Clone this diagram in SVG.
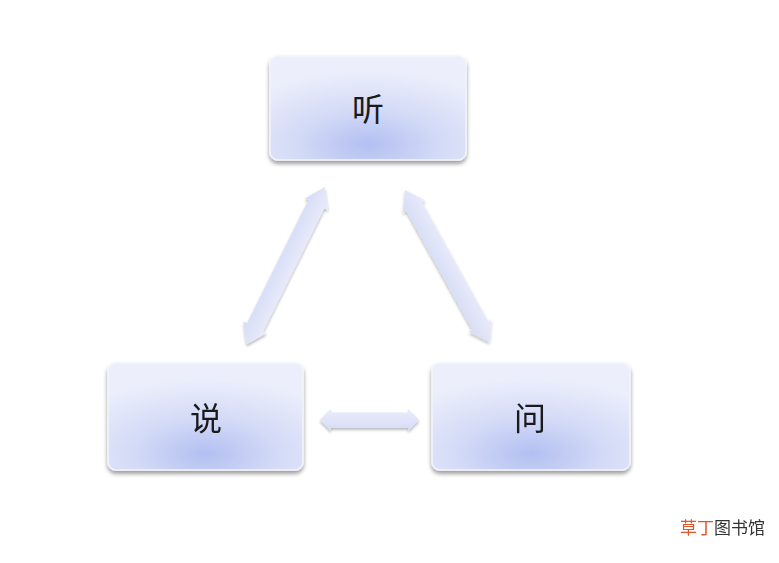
<svg xmlns="http://www.w3.org/2000/svg" width="779" height="563" viewBox="0 0 779 563">
<defs>
<radialGradient id="g" cx="0.5" cy="0.85" r="0.8" gradientTransform="translate(0.5,0.85) scale(1,0.9) translate(-0.5,-0.85)">
<stop offset="0" stop-color="#b2bff1"/>
<stop offset="0.45" stop-color="#d3daf7"/>
<stop offset="1" stop-color="#eceffb"/>
</radialGradient>
<linearGradient id="ag" x1="0" y1="0" x2="0" y2="1">
<stop offset="0" stop-color="#e9ecfa"/>
<stop offset="1" stop-color="#d6dcf6"/>
</linearGradient>
<filter id="sh" x="-10%" y="-10%" width="120%" height="130%">
<feGaussianBlur in="SourceAlpha" stdDeviation="2"/>
<feOffset dx="0" dy="3" result="b"/>
<feComponentTransfer><feFuncA type="linear" slope="0.4"/></feComponentTransfer>
<feMerge><feMergeNode/><feMergeNode in="SourceGraphic"/></feMerge>
</filter>
<filter id="sh2" x="-10%" y="-10%" width="120%" height="130%">
<feGaussianBlur in="SourceAlpha" stdDeviation="1.5"/>
<feOffset dx="0" dy="2"/>
<feComponentTransfer><feFuncA type="linear" slope="0.3"/></feComponentTransfer>
<feMerge><feMergeNode/><feMergeNode in="SourceGraphic"/></feMerge>
</filter>
<path id="arr" d="M0,0 L11,-13 L11,-9 L89,-9 L89,-13 L100,0 L89,13 L89,9 L11,9 L11,13 Z"/>
</defs>
<style>
.box{fill:url(#g);stroke:#f4f5fc;stroke-width:1.5;filter:url(#sh)}
.lbl{font-family:"Noto Sans CJK SC","Noto Sans",sans-serif;font-size:32px;fill:#1a1a1a;text-anchor:middle;dominant-baseline:central}
.a{fill:url(#ag)}
.wm{font-family:"Noto Sans CJK SC",sans-serif;font-size:17px}
</style>
<g id="connectors" filter="url(#sh2)">
<use href="#arr" class="a" transform="translate(325,187) rotate(116.5) scale(1.76,1)"/>
<use href="#arr" class="a" transform="translate(405,190) rotate(61) scale(1.74,1)"/>
<use href="#arr" class="a" transform="translate(320,420) scale(0.99,0.85)"/>
</g>
<g id="node-ting">
<rect class="box" x="270" y="56" width="196" height="104" rx="8"/>
<text class="lbl" x="368" y="107">听</text>
</g>
<g id="node-shuo">
<rect class="box" x="108" y="363" width="195" height="107" rx="8"/>
<text class="lbl" x="206" y="416">说</text>
</g>
<g id="node-wen">
<rect class="box" x="432" y="363" width="198" height="107" rx="8"/>
<text class="lbl" x="530" y="416">问</text>
</g>
<text class="wm" x="680" y="534"><tspan fill="#e0552a">草丁</tspan><tspan fill="#333">图书馆</tspan></text>
</svg>
